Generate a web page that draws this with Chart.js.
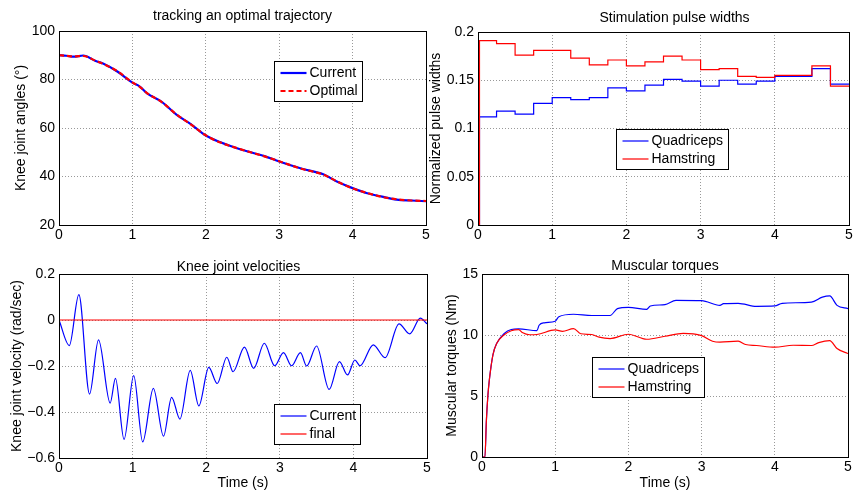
<!DOCTYPE html>
<html>
<head>
<meta charset="utf-8">
<script src="https://cdn.jsdelivr.net/npm/chart.js@4.4.1/dist/chart.umd.min.js"></script>
<style>
  html, body { margin: 0; padding: 0; background: #fff; }
  #fig { position: relative; width: 853px; height: 495px; overflow: hidden; background: #fff; }
  #fig canvas { position: absolute; }
</style>
</head>
<body>
<div id="fig">
  <canvas id="chartAngle" width="440" height="248" style="left:0;top:0"></canvas>
  <canvas id="chartPulse" width="440" height="248" style="left:425px;top:0"></canvas>
  <canvas id="chartVel" width="440" height="247" style="left:0;top:248px"></canvas>
  <canvas id="chartTorque" width="440" height="247" style="left:425px;top:248px"></canvas>
</div>
<script>
// Common time axis
const timeTicks = [0, 1, 2, 3, 4, 5];
const timeTickLabels = ["0", "1", "2", "3", "4", "5"];

// Knee joint angles (deg)
const angleTicks = [20, 40, 60, 80, 100];
const angleTickLabels = ["20", "40", "60", "80", "100"];
const angleTime = [0, 0.1, 0.2, 0.33, 0.5, 0.6, 0.8, 1.0, 1.1, 1.2, 1.4, 1.6, 1.8, 2.0, 2.2, 2.5, 2.8, 3.0, 3.3, 3.6, 3.8, 4.0, 4.2, 4.4, 4.6, 4.8, 5.0];
const angleCurrent = [90, 89.8, 89.4, 89.9, 87.6, 86.6, 83.2, 78.7, 77.1, 74.3, 70.8, 65.5, 61.5, 56.9, 54.1, 50.9, 48.4, 46.2, 43.3, 40.9, 37.7, 35.2, 33.1, 31.7, 30.5, 30.1, 29.8];
const angleOptimal = [90, 89.8, 89.5, 89.7, 87.7, 86.5, 83.3, 78.8, 77.0, 74.4, 70.7, 65.6, 61.4, 57.0, 54.0, 51.0, 48.3, 46.3, 43.2, 40.8, 37.8, 35.1, 33.2, 31.6, 30.6, 30.1, 29.9];

// Stimulation pulse widths (normalized)
const pulseTicks = [0, 0.05, 0.1, 0.15, 0.2];
const pulseTickLabels = ["0", "0.05", "0.1", "0.15", "0.2"];
const pulseTime = [0, 0.02, 0.25, 0.5, 0.75, 1.0, 1.25, 1.5, 1.75, 2.0, 2.25, 2.5, 2.75, 3.0, 3.25, 3.5, 3.75, 4.0, 4.25, 4.5, 4.75, 5.0];
const pulseQuad = [0, 0.112, 0.118, 0.115, 0.126, 0.132, 0.130, 0.132, 0.142, 0.139, 0.145, 0.151, 0.149, 0.144, 0.150, 0.146, 0.149, 0.154, 0.154, 0.162, 0.146, 0.146];
const pulseHam = [0, 0.191, 0.188, 0.176, 0.181, 0.181, 0.173, 0.166, 0.171, 0.165, 0.169, 0.175, 0.171, 0.161, 0.162, 0.154, 0.153, 0.155, 0.155, 0.165, 0.144, 0.144];

// Knee joint velocity (rad/sec)
const velTicks = [-0.6, -0.4, -0.2, 0, 0.2];
const velTickLabels = ["\u22120.6", "\u22120.4", "\u22120.2", "0", "0.2"];
const velTime = [0, 0.14, 0.27, 0.415, 0.537, 0.695, 0.767, 0.884, 1.015, 1.137, 1.282, 1.42, 1.53, 1.643, 1.783, 1.90, 2.035, 2.15, 2.28, 2.365, 2.52, 2.645, 2.79, 2.93, 3.05, 3.16, 3.28, 3.365, 3.50, 3.67, 3.81, 3.92, 4.02, 4.09, 4.27, 4.43, 4.62, 4.765, 4.91, 5.0];
const velCurrent = [0, -0.111, 0.11, -0.322, -0.086, -0.361, -0.254, -0.519, -0.242, -0.530, -0.297, -0.505, -0.336, -0.431, -0.219, -0.373, -0.206, -0.276, -0.162, -0.225, -0.118, -0.210, -0.101, -0.199, -0.142, -0.199, -0.142, -0.2, -0.113, -0.302, -0.181, -0.239, -0.174, -0.199, -0.108, -0.164, -0.017, -0.060, 0.008, -0.017];
const finalTime = [0, 5];
const velFinal = [0, 0];

// Muscular torques (Nm)
const torqueTicks = [0, 5, 10, 15];
const torqueTickLabels = ["0", "5", "10", "15"];
const quadTime = [0, 0.04, 0.06, 0.08, 0.1, 0.15, 0.2, 0.3, 0.4, 0.5, 0.75, 0.78, 0.85, 1.0, 1.05, 1.25, 1.5, 1.75, 1.85, 2.0, 2.25, 2.3, 2.5, 2.65, 3.0, 3.25, 3.3, 3.5, 3.75, 4.0, 4.1, 4.5, 4.65, 4.75, 4.85, 5.0];
const quadTorque = [0, 0, 3.0, 5.0, 6.3, 8.4, 9.3, 10.1, 10.45, 10.5, 10.36, 10.8, 11.0, 11.13, 11.5, 11.7, 11.6, 11.6, 12.16, 12.27, 12.1, 12.38, 12.49, 12.84, 12.82, 12.43, 12.57, 12.6, 12.35, 12.38, 12.6, 12.7, 13.1, 13.2, 12.43, 12.16];
const hamTime = [0, 0.04, 0.06, 0.08, 0.1, 0.15, 0.2, 0.3, 0.4, 0.5, 0.55, 0.65, 0.75, 1.0, 1.1, 1.25, 1.35, 1.5, 1.6, 1.75, 2.0, 2.25, 2.5, 2.75, 3.0, 3.15, 3.25, 3.5, 3.6, 3.75, 4.0, 4.25, 4.5, 4.6, 4.75, 4.85, 5.0];
const hamTorque = [0, 0, 3.0, 5.0, 6.3, 8.4, 9.3, 10.0, 10.35, 10.44, 10.2, 10.02, 10.04, 10.42, 10.3, 10.53, 10.1, 10.04, 9.82, 9.71, 10.06, 9.65, 9.9, 10.14, 9.95, 9.49, 9.41, 9.49, 9.22, 9.14, 9.0, 9.16, 9.14, 9.38, 9.54, 8.89, 8.48];

const FONT = "'Liberation Sans', Arial, Helvetica, sans-serif";
Chart.defaults.font.family = FONT;
Chart.defaults.font.size = 14;
Chart.defaults.color = "#000";

function points(xs, ys) {
  return xs.map((x, i) => ({ x: x, y: ys[i] }));
}

// MATLAB-like frame, title and legend box
const matlabAxes = {
  id: "matlabAxes",
  afterDatasetsDraw(chart, args, opts) {
    const { ctx, chartArea: a } = chart;
    const px = v => Math.round(v - 0.5) + 0.5;
    ctx.save();
    ctx.setLineDash([]);
    ctx.strokeStyle = "#000";
    ctx.lineWidth = 1;
    ctx.strokeRect(px(a.left), px(a.top), px(a.right) - px(a.left), px(a.bottom) - px(a.top));

    const lg = opts.legend;
    const x0 = px(a.left + lg.x), y0 = px(a.top + lg.y);
    ctx.fillStyle = "#fff";
    ctx.fillRect(x0, y0, lg.w, 40);
    ctx.strokeRect(x0, y0, lg.w, 40);
    ctx.font = "14px " + FONT;
    ctx.textBaseline = "middle";
    chart.data.datasets.forEach((ds, i) => {
      const y = Math.round(y0 + 11 + i * 18.5);
      ctx.beginPath();
      ctx.strokeStyle = ds.borderColor;
      ctx.lineWidth = ds.borderWidth;
      ctx.setLineDash(ds.borderDash || []);
      ctx.moveTo(x0 + 6, y);
      ctx.lineTo(x0 + 32, y);
      ctx.stroke();
      ctx.setLineDash([]);
      ctx.fillStyle = "#000";
      ctx.fillText(ds.label, x0 + 35, y);
    });

    ctx.font = "14px " + FONT;
    ctx.textAlign = "center";
    ctx.textBaseline = "alphabetic";
    ctx.fillStyle = "#000";
    ctx.fillText(opts.title, (a.left + a.right) / 2 + opts.titleDx, a.top - opts.titleGap);
    ctx.restore();
  }
};

function axisOpts(ticks, labels, min, max, size, title, titlePad) {
  return {
    type: "linear",
    min: min,
    max: max,
    afterBuildTicks: scale => { scale.ticks = ticks.map(v => ({ value: v })); },
    afterFit: scale => {
      if (scale.isHorizontal()) scale.height = size; else scale.width = size;
      scale.paddingLeft = scale.paddingRight = scale.paddingTop = scale.paddingBottom = 0;
    },
    ticks: {
      autoSkip: false,
      maxRotation: 0,
      padding: 0,
      callback: (v, i) => labels[i]
    },
    grid: { color: "#999", lineWidth: 1, drawTicks: false },
    border: { display: false, dash: [1, 2] },
    title: title ? { display: true, text: title, padding: titlePad, font: { size: 14 } } : { display: false }
  };
}

function makeChart(id, datasets, cfg) {
  const x = axisOpts(timeTicks, timeTickLabels, 0, 5, cfg.xSize, cfg.xTitle, { top: 0, bottom: 3.6 });
  x.ticks.padding = 2;
  const y = axisOpts(cfg.yTicks, cfg.yLabels, cfg.yMin, cfg.yMax, cfg.ySize, cfg.yTitle, { top: cfg.yTitlePad, bottom: 0 });
  y.ticks.padding = 4;
  new Chart(document.getElementById(id).getContext("2d"), {
    type: "line",
    data: { datasets: datasets },
    options: {
      responsive: false,
      animation: false,
      devicePixelRatio: 1,
      events: [],
      layout: { padding: cfg.padding },
      elements: { point: { radius: 0 } },
      scales: { x: x, y: y },
      plugins: {
        legend: { display: false },
        tooltip: { enabled: false },
        matlabAxes: { title: cfg.title, titleDx: cfg.titleDx, titleGap: cfg.titleGap, legend: cfg.legend }
      }
    },
    plugins: [matlabAxes]
  });
}

// Gráfico 1: tracking an optimal trajectory
makeChart("chartAngle", [
  { label: "Current", data: points(angleTime, angleCurrent), borderColor: "#0000ff", borderWidth: 2.2, cubicInterpolationMode: "monotone", order: 2 },
  { label: "Optimal", data: points(angleTime, angleOptimal), borderColor: "#ff0000", borderWidth: 2.2, borderDash: [5, 3], cubicInterpolationMode: "monotone", order: 1 }
], {
  yTicks: angleTicks, yLabels: angleTickLabels, yMin: 20, yMax: 100,
  yTitle: "Knee joint angles (\u00b0)", yTitlePad: 12.6,
  ySize: 59, xSize: 23, xTitle: null,
  padding: { left: 0, top: 31, right: 14, bottom: 0 },
  title: "tracking an optimal trajectory", titleDx: 0, titleGap: 11.5,
  legend: { x: 215, y: 30, w: 88 }
});

// Gráfico 2: Stimulation pulse widths
makeChart("chartPulse", [
  { label: "Quadriceps", data: points(pulseTime, pulseQuad), borderColor: "#0000ff", borderWidth: 1.2, stepped: "before", order: 2 },
  { label: "Hamstring", data: points(pulseTime, pulseHam), borderColor: "#ff0000", borderWidth: 1.2, stepped: "before", order: 1 }
], {
  yTicks: pulseTicks, yLabels: pulseTickLabels, yMin: 0, yMax: 0.2,
  yTitle: "Normalized pulse widths", yTitlePad: 2.6,
  ySize: 53, xSize: 23, xTitle: null,
  padding: { left: 0, top: 32, right: 16, bottom: 0 },
  title: "Stimulation pulse widths", titleDx: 11, titleGap: 10.5,
  legend: { x: 138, y: 97, w: 112 }
});

// Gráfico 3: Knee joint velocities
makeChart("chartVel", [
  { label: "Current", data: points(velTime, velCurrent), borderColor: "#0000ff", borderWidth: 1.2, cubicInterpolationMode: "monotone", order: 2 },
  { label: "final", data: points(finalTime, velFinal), borderColor: "#ff0000", borderWidth: 1.2, order: 1 }
], {
  yTicks: velTicks, yLabels: velTickLabels, yMin: -0.6, yMax: 0.2,
  yTitle: "Knee joint velocity (rad/sec)", yTitlePad: 8.6,
  ySize: 59, xSize: 37, xTitle: "Time (s)",
  padding: { left: 0, top: 26, right: 13, bottom: 0 },
  title: "Knee joint velocities", titleDx: -4.5, titleGap: 3,
  legend: { x: 215, y: 130, w: 86 }
});

// Gráfico 4: Muscular torques
makeChart("chartTorque", [
  { label: "Quadriceps", data: points(quadTime, quadTorque), borderColor: "#0000ff", borderWidth: 1.2, cubicInterpolationMode: "monotone", order: 2 },
  { label: "Hamstring", data: points(hamTime, hamTorque), borderColor: "#ff0000", borderWidth: 1.2, cubicInterpolationMode: "monotone", order: 1 }
], {
  yTicks: torqueTicks, yLabels: torqueTickLabels, yMin: 0, yMax: 15,
  yTitle: "Muscular torques (Nm)", yTitlePad: 19.1,
  ySize: 57, xSize: 38, xTitle: "Time (s)",
  padding: { left: 0, top: 26, right: 17, bottom: 0 },
  title: "Muscular torques", titleDx: 0, titleGap: 4,
  legend: { x: 110, y: 83, w: 112 }
});
</script>
</body>
</html>
